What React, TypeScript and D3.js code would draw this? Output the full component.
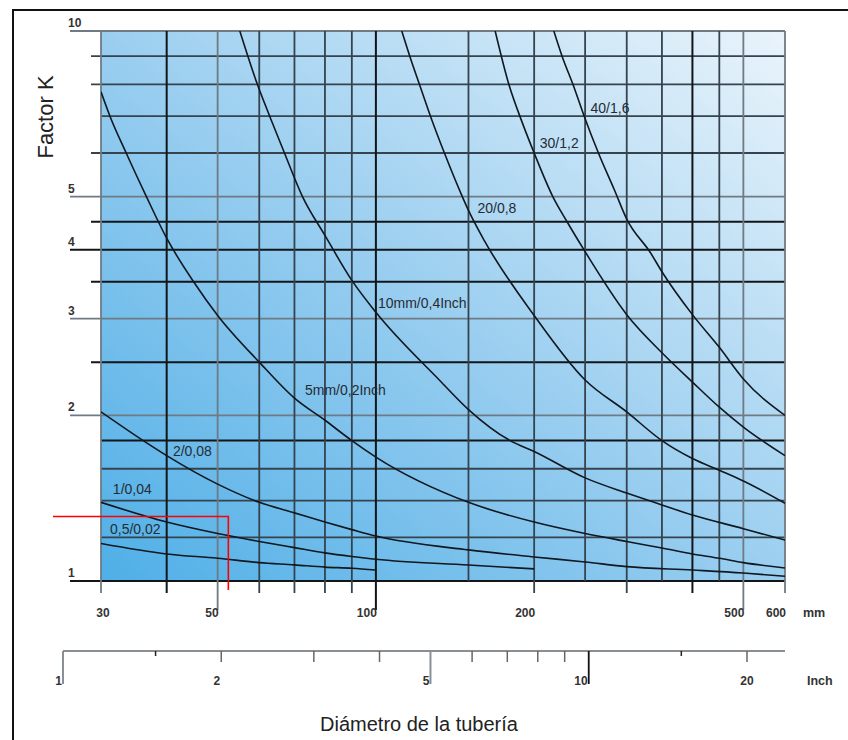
import * as d3 from "d3";
import { useEffect, useRef } from "react";

// pipe diameter (mm) / factor K
const mmLabels = [30, 50, 100, 200, 500, 600];
const inchLabels = [1, 2, 5, 10, 20];
const inchTiny = [1.5, 15];
const inchMid = [2, 3, 4, 6, 7, 8, 9, 20];
const inchLong = [1, 5, 10];
const kLabels = [1, 2, 3, 4, 5, 10];

const vGrid = [30, 40, 50, 60, 70, 80, 90, 100, 150, 200, 250, 300, 350, 400, 450, 500, 600];
const vBlack = [40, 100, 400];
const vGray = [30, 50, 500, 600];
const vShortTick = [30, 40, 60, 70, 80, 90, 200, 300, 400, 600];
const vLongTick = [50, 100, 500];

const hGrid = [1, 1.2, 1.4, 1.6, 1.8, 2, 2.5, 3, 3.5, 4, 4.5, 5, 6, 7, 8, 9, 10];
const hBlack = [1, 1.8, 2.5, 3.5, 4, 4.5];
const hGray = [2, 3, 5, 10];
const hLongExt = [1, 2, 3, 4, 5, 10];
const hShortExt = [2.5, 3.5, 4.5, 6, 8, 9];

// deposit thickness curves: [diameter mm, K]
const t05 = [[30, 1.17], [40, 1.12], [50, 1.1], [60, 1.08], [70, 1.07], [80, 1.06], [90, 1.055], [100, 1.047]];
const t1 = [[30, 1.39], [40, 1.28], [50, 1.22], [60, 1.18], [70, 1.15], [80, 1.125], [90, 1.108], [100, 1.095], [150, 1.069], [200, 1.052]];
const t2 = [[30, 2.03], [36.4, 1.79], [40, 1.69], [50, 1.5], [60, 1.39], [70, 1.33], [80, 1.28], [90, 1.24], [100, 1.207], [150, 1.139], [200, 1.106], [250, 1.083], [300, 1.062], [400, 1.047], [500, 1.034], [600, 1.02]];
const t5 = [[30, 7.75], [31.2, 7.0], [33.5, 6.0], [36.6, 5.0], [40, 4.2], [45, 3.5], [50, 3.04], [60, 2.5], [70, 2.15], [80, 1.96], [90, 1.8], [100, 1.68], [150, 1.39], [200, 1.28], [250, 1.22], [300, 1.18], [350, 1.148], [400, 1.12], [450, 1.1], [500, 1.08], [600, 1.056]];
const t10 = [[55.1, 10], [59.5, 8.0], [62.8, 7.0], [67, 6.0], [72.5, 5.0], [80, 4.25], [90, 3.52], [100, 3.08], [132, 2.32], [150, 2.05], [180, 1.8], [200, 1.72], [250, 1.54], [300, 1.445], [350, 1.375], [400, 1.318], [500, 1.245], [600, 1.187]];
const t20 = [[112, 10], [116, 9], [121, 8], [127, 7], [135, 6], [146, 5], [150, 4.72], [161, 4.15], [200, 3.04], [250, 2.32], [300, 2.03], [350, 1.8], [400, 1.67], [450, 1.59], [500, 1.52], [600, 1.385]];
const t30 = [[168.6, 10], [179, 8.0], [190, 6.8], [200, 6.0], [217, 5.0], [231, 4.5], [248, 4.02], [300, 3.05], [350, 2.6], [400, 2.3], [450, 2.07], [500, 1.905], [600, 1.69]];
const t40 = [[218, 10], [226, 9], [237, 8], [249, 7], [265, 6], [284, 5.15], [300, 4.55], [333, 3.95], [350, 3.65], [400, 3.05], [450, 2.66], [500, 2.33], [600, 2.0]];

const curveNames = ["0,5/0,02", "1/0,04", "2/0,08", "5mm/0,2Inch", "10mm/0,4Inch", "20/0,8", "30/1,2", "40/1,6"];
const labelAt = [[31.2, 1.217], [31.6, 1.44], [41.1, 1.69], [73.3, 2.18], [100.9, 3.14], [156, 4.67], [205, 6.13], [256, 7.1]];

// red reading mark
const markD = 52.4;
const markK = 1.31;

const FONT = "Liberation Sans, Arial, Helvetica, sans-serif";

function App() {
  const ref = useRef(null);

  useEffect(() => {
    const svg = d3.select(ref.current);
    svg.selectAll("*").remove();

    const x = d3.scaleLog().domain([30, 600]).range([101, 785]);
    const y = d3.scaleLog().domain([1, 10]).range([581, 31]);
    const xi = d3.scaleLog().domain([30 / 25.4, 600 / 25.4]).range([101, 785]);
    const [x0, x1] = x.range();
    const [y0, y1] = y.range();

    // frame
    svg.append("path").attr("d", "M13,740V10H848").attr("fill", "none").attr("stroke", "#111").attr("stroke-width", 2);

    const defs = svg.append("defs");
    const grad = defs.append("linearGradient").attr("id", "bg").attr("x1", 0).attr("y1", 1).attr("x2", 1).attr("y2", 0);
    grad.append("stop").attr("offset", 0).attr("stop-color", "#4fafe7");
    grad.append("stop").attr("offset", 0.45).attr("stop-color", "#93cbef");
    grad.append("stop").attr("offset", 1).attr("stop-color", "#eaf4fb");
    defs.append("clipPath").attr("id", "plot").append("rect")
      .attr("x", x0).attr("y", y1).attr("width", x1 - x0).attr("height", y0 - y1);

    svg.append("rect").attr("x", x0).attr("y", y1).attr("width", x1 - x0).attr("height", y0 - y1).attr("fill", "url(#bg)");

    const col = (black, gray) => (black ? "#121619" : gray ? "#6f7a83" : "#35434e");

    // horizontal grid
    const g = svg.append("g");
    g.selectAll(".h").data(hGrid).join("line")
      .attr("x1", d => hLongExt.includes(d) ? 70 : hShortExt.includes(d) ? 91 : x0)
      .attr("x2", x1)
      .attr("y1", d => y(d)).attr("y2", d => y(d))
      .attr("stroke", d => col(hBlack.includes(d), hGray.includes(d)))
      .attr("stroke-width", d => hBlack.includes(d) ? 2 : 1.8);

    // vertical grid
    g.selectAll(".v").data(vGrid).join("line")
      .attr("x1", d => x(d)).attr("x2", d => x(d))
      .attr("y1", y1)
      .attr("y2", d => vLongTick.includes(d) ? 610 : vShortTick.includes(d) ? 593 : y0)
      .attr("stroke", d => col(vBlack.includes(d), vGray.includes(d)))
      .attr("stroke-width", d => vBlack.includes(d) ? 2 : 1.8);

    // K labels
    svg.selectAll(".kl").data(kLabels).join("text")
      .attr("x", 68).attr("y", d => y(d) - 4)
      .attr("font-family", FONT).attr("font-size", 12).attr("font-weight", "bold").attr("fill", "#333")
      .text(d => d);

    // curves
    const line = d3.line().x(d => x(d[0])).y(d => y(d[1])).curve(d3.curveMonotoneX);
    const series = [t05, t1, t2, t5, t10, t20, t30, t40];
    svg.append("g").attr("clip-path", "url(#plot)").selectAll("path").data(series).join("path")
      .attr("d", d => line(d)).attr("fill", "none").attr("stroke", "#101820").attr("stroke-width", 1.6);

    svg.selectAll(".cl").data(curveNames).join("text")
      .attr("x", (d, i) => x(labelAt[i][0])).attr("y", (d, i) => y(labelAt[i][1]))
      .attr("font-family", FONT).attr("font-size", 14).attr("fill", "#262c34")
      .text(d => d);

    // mm axis labels
    svg.selectAll(".ml").data(mmLabels).join("text")
      .attr("x", d => d === 30 ? x(d) + 2 : x(d) + 1).attr("y", 617)
      .attr("text-anchor", d => d === 30 ? "middle" : "end")
      .attr("font-family", FONT).attr("font-size", 12).attr("font-weight", "bold").attr("fill", "#333")
      .text(d => d);
    svg.append("text").attr("x", 803).attr("y", 617).attr("font-family", FONT).attr("font-size", 12.5)
      .attr("font-weight", "bold").attr("fill", "#333").text("mm");

    // inch axis
    const ia = svg.append("g");
    ia.append("line").attr("x1", xi(1)).attr("x2", x1).attr("y1", 651).attr("y2", 651).attr("stroke", "#8a8f94").attr("stroke-width", 2);
    ia.selectAll(".it").data(inchTiny).join("line")
      .attr("x1", d => xi(d)).attr("x2", d => xi(d)).attr("y1", 651).attr("y2", 656).attr("stroke", "#222").attr("stroke-width", 1.5);
    ia.selectAll(".im").data(inchMid).join("line")
      .attr("x1", d => xi(d)).attr("x2", d => xi(d)).attr("y1", 651).attr("y2", 662).attr("stroke", "#666").attr("stroke-width", 1.5);
    ia.selectAll(".il").data(inchLong).join("line")
      .attr("x1", d => xi(d)).attr("x2", d => xi(d)).attr("y1", 651).attr("y2", 684)
      .attr("stroke", d => d === 10 ? "#111" : "#8a8f94").attr("stroke-width", d => d === 10 ? 1.8 : 2);
    ia.selectAll(".ilab").data(inchLabels).join("text")
      .attr("x", d => d === 20 ? xi(d) : xi(d) - 1).attr("y", 685)
      .attr("text-anchor", d => d === 20 ? "middle" : "end")
      .attr("font-family", FONT).attr("font-size", 12).attr("font-weight", "bold").attr("fill", "#333")
      .text(d => d);
    svg.append("text").attr("x", 807).attr("y", 685).attr("font-family", FONT).attr("font-size", 12.5)
      .attr("font-weight", "bold").attr("fill", "#333").text("Inch");

    // titles
    svg.append("text").attr("transform", "translate(53,117) rotate(-90)").attr("text-anchor", "middle")
      .attr("font-family", FONT).attr("font-size", 22).attr("fill", "#222").text("Factor K");
    svg.append("text").attr("x", 419).attr("y", 731).attr("text-anchor", "middle")
      .attr("font-family", FONT).attr("font-size", 20).attr("fill", "#222").text("Diámetro de la tubería");

    // red reading mark
    svg.append("path")
      .attr("d", `M53,${y(markK)}H${x(markD)}V${y0 + 9}`)
      .attr("fill", "none").attr("stroke", "#f00").attr("stroke-width", 1.6);

    return () => {
      svg.selectAll("*").remove();
    };
  }, []);

  return (
    <svg ref={ref} width={848} height={740} style={{ position: "absolute", left: 0, top: 0, background: "#fff" }} />
  );
}

export default App;
